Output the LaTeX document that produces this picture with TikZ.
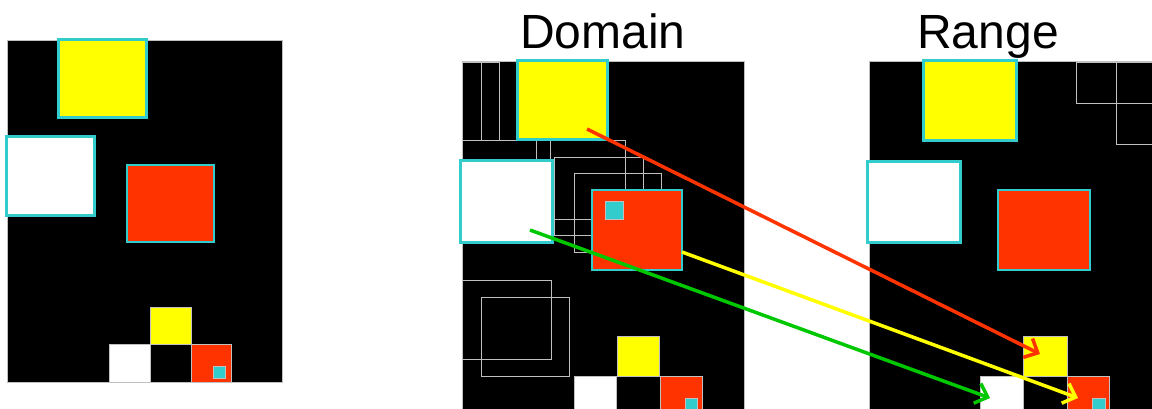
\documentclass[tikz,border=0pt]{standalone}
\usepackage{fontspec}
\setmainfont{Liberation Sans}
\usetikzlibrary{arrows.meta}

\definecolor{rim}{RGB}{51,204,204}
\definecolor{edge}{RGB}{192,192,192}
\definecolor{hot}{RGB}{255,51,0}
\definecolor{sun}{RGB}{255,255,0}
\definecolor{leaf}{RGB}{0,200,0}

\begin{document}
\begin{tikzpicture}[x=1pt,y=-1pt,
  panel/.style={fill=black,draw=edge,line width=1pt},
  big/.style={draw=rim,line width=3pt},
  small/.style={draw=edge,line width=1pt},
  frame/.style={draw=edge,line width=0.8pt},
  map/.style={line width=3.5pt,-{Straight Barb[length=11pt,width=21pt,line width=3.5pt]}}]
\useasboundingbox (0,0) rectangle (1152,409);

% original picture
\filldraw[panel] (7,41) rectangle (282,382);
\filldraw[big,fill=sun] (58,40) rectangle (146,118);
\filldraw[big,fill=white] (6,137) rectangle (94,215);
\filldraw[big,line width=2.5pt,fill=hot] (127,165) rectangle (214,242);
\filldraw[small,fill=sun] (150,307) rectangle (191,344);
\filldraw[small,fill=white] (109,344) rectangle (150,382);
\filldraw[small,fill=black] (150,344) rectangle (191,382);
\filldraw[small,fill=hot] (191,344) rectangle (231,382);
\filldraw[small,fill=rim] (213,366) rectangle (225,378);

% domain blocks
\node (dom) at (603,49) [anchor=base,font=\fontsize{48}{48}\selectfont] {Domain};
\filldraw[panel] (462,62) rectangle (744,412);
\draw[frame] (462,62) rectangle (481,140);
\draw[frame] (462,62) rectangle (499,140);
\draw[frame] (462,140) -- (517,140);
\draw[frame] (550,140) -- (550,161);
\draw[frame] (536,140) rectangle (625,219);
\draw[frame] (554,157) rectangle (643,235);
\draw[frame] (574,173) rectangle (661,252);
\draw[frame] (462,280) rectangle (551,359);
\draw[frame] (481,297) rectangle (569,376);
\filldraw[big,fill=sun] (517,61) rectangle (607,140);
\filldraw[big,fill=white] (460,161) rectangle (552,242);
\filldraw[big,line width=2.5pt,fill=hot] (592,190) rectangle (682,270);
\filldraw[small,fill=rim] (605,202) rectangle (623,219);
\filldraw[small,fill=sun] (617,336) rectangle (659,376);
\filldraw[small,fill=white] (574,376) rectangle (616,412);
\filldraw[small,fill=black] (616,376) rectangle (660,412);
\filldraw[small,fill=hot] (660,376) rectangle (702,412);
\filldraw[small,fill=rim] (685,398) rectangle (697,412);

% range blocks
\node (ran) at (988,49) [anchor=base,font=\fontsize{48}{48}\selectfont] {Range};
\filldraw[panel] (869,62) rectangle (1160,412);
\draw[frame] (1076,62) rectangle (1160,103);
\draw[frame] (1116,62) rectangle (1160,144);
\filldraw[big,fill=sun] (923,61) rectangle (1016,141);
\filldraw[big,fill=white] (867,162) rectangle (960,242);
\filldraw[big,line width=2.5pt,fill=hot] (998,190) rectangle (1090,270);
\filldraw[small,fill=sun] (1023,336) rectangle (1067,376);
\filldraw[small,fill=white] (980,376) rectangle (1023,412);
\filldraw[small,fill=black] (1023,376) rectangle (1067,412);
\filldraw[small,fill=hot] (1067,376) rectangle (1109,412);
\filldraw[small,fill=rim] (1092,398) rectangle (1105,412);

% block maps
\coordinate (y0) at (587,129);
\coordinate (y1) at (1040,354);
\coordinate (r0) at (682,252);
\coordinate (r1) at (1078,398);
\coordinate (w0) at (530,230);
\coordinate (w1) at (990,398);
\draw[map,hot] (y0) -- (y1);
\draw[map,sun] (r0) -- (r1);
\draw[map,leaf] (w0) -- (w1);
\end{tikzpicture}
\end{document}
